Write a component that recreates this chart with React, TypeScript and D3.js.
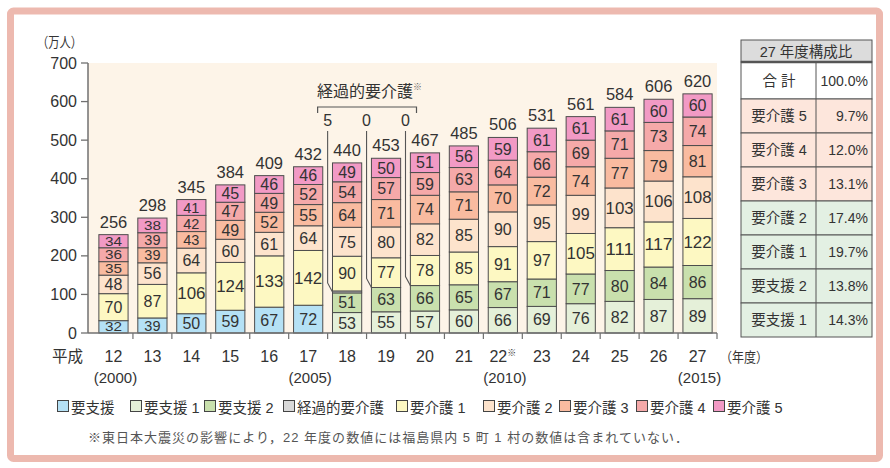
import React from "react";
import * as d3 from "d3";

// 平成12〜27年度 要介護(要支援)認定者数（万人）
const years = ["12", "13", "14", "15", "16", "17", "18", "19", "20", "21", "22", "23", "24", "25", "26", "27"];
const westernYears = ["(2000)", "", "", "", "", "(2005)", "", "", "", "", "(2010)", "", "", "", "", "(2015)"];

const shien = [32, 39, 50, 59, 67, 72, 0, 0, 0, 0, 0, 0, 0, 0, 0, 0];
const shien1 = [0, 0, 0, 0, 0, 0, 53, 55, 57, 60, 66, 69, 76, 82, 87, 89];
const shien2 = [0, 0, 0, 0, 0, 0, 51, 63, 66, 65, 67, 71, 77, 80, 84, 86];
const keika = [0, 0, 0, 0, 0, 0, 5, 0, 0, 0, 0, 0, 0, 0, 0, 0];
const kaigo1 = [70, 87, 106, 124, 133, 142, 90, 77, 78, 85, 91, 97, 105, 111, 117, 122];
const kaigo2 = [48, 56, 64, 60, 61, 64, 75, 80, 82, 85, 90, 95, 99, 103, 106, 108];
const kaigo3 = [35, 39, 43, 49, 52, 55, 64, 71, 74, 71, 70, 72, 74, 77, 79, 81];
const kaigo4 = [36, 39, 42, 47, 49, 52, 54, 57, 59, 63, 64, 66, 69, 71, 73, 74];
const kaigo5 = [34, 38, 41, 45, 46, 46, 49, 50, 51, 56, 59, 61, 61, 61, 60, 60];
const totals = [256, 298, 345, 384, 409, 432, 440, 453, 467, 485, 506, 531, 561, 584, 606, 620];

const keikaYears = ["18", "19", "20"];
const keikaLabels = ["5", "0", "0"];

const seriesKeys = ["shien", "shien1", "shien2", "keika", "kaigo1", "kaigo2", "kaigo3", "kaigo4", "kaigo5"];
const seriesNames = ["要支援", "要支援 1", "要支援 2", "経過的要介護", "要介護 1", "要介護 2", "要介護 3", "要介護 4", "要介護 5"];
const seriesColors = ["#b5e1f5", "#e5f0d9", "#c9e0ad", "#d9d9d9", "#fdf8c2", "#fde3cc", "#f9bba0", "#f5a9a9", "#f29ac5"];
const seriesValues = [shien, shien1, shien2, keika, kaigo1, kaigo2, kaigo3, kaigo4, kaigo5];

const yTicks = [0, 100, 200, 300, 400, 500, 600, 700];

const tableLabels = ["要介護 5", "要介護 4", "要介護 3", "要介護 2", "要介護 1", "要支援 2", "要支援 1"];
const tableShares = ["9.7%", "12.0%", "13.1%", "17.4%", "19.7%", "13.8%", "14.3%"];
const tableColors = ["#fde6dc", "#fde6dc", "#fde6dc", "#e3f0e3", "#e3f0e3", "#e3f0e3", "#e3f0e3"];

const FONT = "'Liberation Sans', Arial, 'Noto Sans CJK JP', sans-serif";
const legendX = [57, 130, 204, 283, 396, 483, 559, 636, 713];

export default function App() {
  const W = 890, H = 468;
  const x = d3.scaleBand<string>().domain(years).range([94, 717]).paddingInner(0.25).paddingOuter(0.125);
  const y = d3.scaleLinear().domain([0, 700]).range([333, 63]);
  const step = x.step();
  const bw = x.bandwidth();

  const rows = years.map((yr, i) => {
    const r: any = { year: yr };
    seriesKeys.forEach((k, j) => (r[k] = seriesValues[j][i]));
    return r;
  });
  const stacked = d3.stack<any>().keys(seriesKeys)(rows);
  const slotLeft = (yr: string) => (x(yr) as number) - step * 0.125;

  return (
    <div style={{ position: "absolute", left: 0, top: 0 }}>
      <svg width={W} height={H} style={{ display: "block", fontFamily: FONT, fontWeight: 400 }}>
        <rect x={0} y={0} width={W} height={H} fill="#fff" />
        <rect x={10.5} y={11} width={869} height={447.5} rx={3} fill="#fff" stroke="#edb9af" strokeWidth={7} />

        {/* plot background */}
        <rect x={88} y={63} width={717 - 88} height={333 - 63} fill="#fdf4e8" />

        <text x={37} y={47} fontSize={14} fill="#333" textLength={45} lengthAdjust="spacingAndGlyphs">（万人）</text>

        {/* y axis */}
        {yTicks.map((t) => (
          <g key={t}>
            <line x1={81} x2={88} y1={y(t)} y2={y(t)} stroke="#707070" strokeWidth={1.3} />
            <text x={77} y={y(t) + 5.5} fontSize={16} fill="#333" textAnchor="end">{t}</text>
          </g>
        ))}

        {/* bars */}
        {stacked.map((s, j) => (
          <g key={s.key}>
            {s.map((d, i) => {
              const v = d[1] - d[0];
              if (v <= 0) return null;
              const y0 = y(d[0]), y1 = y(d[1]);
              const h = y0 - y1;
              const xx = x(years[i]) as number;
              const lab = String(v);
              const fs = h < 15 ? 12.5 : h < 17 ? 14.5 : 16;
              return (
                <g key={i}>
                  <rect x={xx} y={y1} width={bw} height={h} fill={seriesColors[j]} stroke="#4d4d4d" strokeWidth={1} />
                  {h > 10 && (
                    <text
                      x={xx + bw / 2}
                      y={(y0 + y1) / 2 + fs * 0.36}
                      fontSize={fs}
                      fill="#333"
                      textAnchor="middle"
                      {...(lab.length >= 3
                        ? { textLength: bw - 1, lengthAdjust: "spacingAndGlyphs" }
                        : h < 15
                        ? { textLength: 17, lengthAdjust: "spacingAndGlyphs" }
                        : {})}
                    >
                      {lab}
                    </text>
                  )}
                </g>
              );
            })}
          </g>
        ))}

        {/* totals */}
        {years.map((yr, i) => {
          const top = stacked[stacked.length - 1][i][1];
          return (
            <text key={yr} x={(x(yr) as number) + bw / 2} y={y(top) - 7} fontSize={16.5} fill="#333" textAnchor="middle">
              {totals[i]}
            </text>
          );
        })}

        {/* x axis */}
        <line x1={88} x2={717} y1={333} y2={333} stroke="#707070" strokeWidth={1.3} />
        <line x1={88} x2={88} y1={63} y2={333} stroke="#707070" strokeWidth={1.5} />
        {years.map((yr) => (
          <line key={yr} x1={slotLeft(yr) + step} x2={slotLeft(yr) + step} y1={333} y2={339} stroke="#707070" strokeWidth={1.2} />
        ))}
        <text x={52} y={362} fontSize={15.5} fill="#333" fontFamily="'Noto Sans CJK JP', sans-serif">平成</text>
        {years.map((yr, i) => (
          <text key={yr} x={(x(yr) as number) + bw / 2} y={362} fontSize={16} fill="#333" textAnchor="middle">
            {yr}
            {yr === "22" && <tspan fontSize={9} dy={-6}>※</tspan>}
          </text>
        ))}
        {years.map((yr, i) =>
          westernYears[i] ? (
            <text key={yr} x={(x(yr) as number) + bw / 2 + 2} y={383} fontSize={15} fill="#333" textAnchor="middle">
              {westernYears[i]}
            </text>
          ) : null
        )}
        <text x={720} y={362} fontSize={14} fill="#333" textLength={48} lengthAdjust="spacingAndGlyphs">（年度）</text>

        {/* 経過的要介護 bracket */}
        <text x={317} y={97} fontSize={16} fill="#333">
          経過的要介護<tspan fontSize={9} dy={-7} fill="#666">※</tspan>
        </text>
        {(() => {
          const l = slotLeft(keikaYears[0]);
          const r = slotLeft(keikaYears[keikaYears.length - 1]) + 11;
          return (
            <path d={`M${l - 10},113V107H${r}V113`} fill="none" stroke="#555" strokeWidth={1.2} />
          );
        })()}
        {keikaYears.map((yr, k) => {
          const i = years.indexOf(yr);
          const lx = slotLeft(yr);
          const s2 = stacked[2][i][1];
          const yb = y(s2 + keika[i] / 2);
          const bx = x(yr) as number;
          return (
            <g key={yr}>
              <text x={lx} y={126} fontSize={16} fill="#333" textAnchor="middle">{keikaLabels[k]}</text>
              <path d={`M${lx},131V${yb - 9}L${bx},${yb}`} fill="none" stroke="#555" strokeWidth={1.1} />
            </g>
          );
        })}

        {/* legend */}
        {seriesNames.map((n, j) => (
          <g key={n}>
            <rect x={legendX[j] + 0.5} y={400.5} width={11} height={11} fill={seriesColors[j]} stroke="#444" strokeWidth={1} />
            <text x={legendX[j] + 14} y={413} fontSize={14.5} fill="#333">{n}</text>
          </g>
        ))}

        {/* footnote */}
        <text x={88} y={442} fontSize={13} fill="#555" textLength={600} lengthAdjust="spacing">
          ※東日本大震災の影響により，22 年度の数値には福島県内 5 町 1 村の数値は含まれていない．
        </text>

        {/* share table */}
        <g>
          <rect x={741} y={40} width={131} height={22} fill="#dcdcdc" stroke="#555" strokeWidth={1} />
          <text x={806} y={57} fontSize={14.5} fill="#333" textAnchor="middle">27 年度構成比</text>
          <rect x={741} y={62} width={131} height={37} fill="#fff" stroke="#555" strokeWidth={1} />
          <line x1={741} x2={872} y1={62} y2={62} stroke="#555" strokeWidth={2.5} />
          <line x1={816} x2={816} y1={62} y2={99} stroke="#555" strokeWidth={1} />
          <text x={779} y={86} fontSize={14.5} fill="#333" textAnchor="middle">合 計</text>
          <text x={868} y={86} fontSize={14} fill="#333" textAnchor="end">100.0%</text>
          {tableLabels.map((lab, i) => {
            const ty = 99 + i * 34;
            return (
              <g key={lab}>
                <rect x={741} y={ty} width={131} height={34} fill={tableColors[i]} stroke="#555" strokeWidth={1} />
                <line x1={816} x2={816} y1={ty} y2={ty + 34} stroke="#555" strokeWidth={1} />
                <text x={779} y={ty + 22} fontSize={14.5} fill="#333" textAnchor="middle">{lab}</text>
                <text x={868} y={ty + 22} fontSize={14} fill="#333" textAnchor="end">{tableShares[i]}</text>
              </g>
            );
          })}
        </g>
      </svg>
    </div>
  );
}
